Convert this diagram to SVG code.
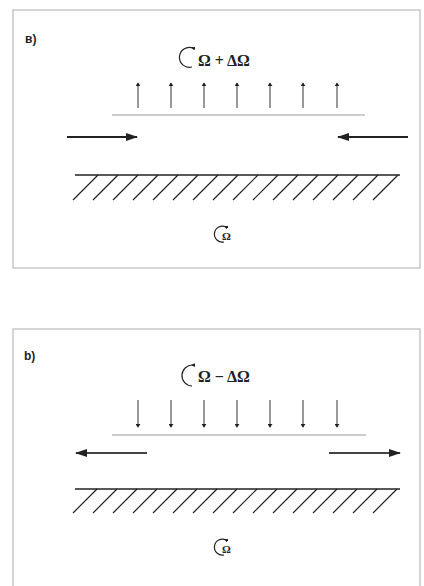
<svg xmlns="http://www.w3.org/2000/svg" width="424" height="586" viewBox="0 0 424 586">
<style>
.frame{fill:none;stroke:#c8c8c8;stroke-width:1.5}
.lbl{font-family:"Liberation Sans",Arial,sans-serif;font-weight:bold;font-size:12px;fill:#222}
.om{font-family:"Liberation Serif","Times New Roman",serif;font-weight:bold;font-size:16px;fill:#222}
.oms{font-family:"Liberation Serif","Times New Roman",serif;font-weight:bold;font-size:11px;fill:#222}
.thin{stroke:#333;stroke-width:1;fill:none}
.base{stroke:#999;stroke-width:1;fill:none}
.ground{stroke:#222;stroke-width:1.5;fill:none}
.hatch{stroke:#222;stroke-width:1.2;fill:none}
.big{stroke:#222;stroke-width:2;fill:none}
.arc{stroke:#222;stroke-width:1.2;fill:none}
</style>
<defs>
<marker id="sm" viewBox="0 0 6 8" refX="5" refY="4" markerWidth="4" markerHeight="5" orient="auto" markerUnits="userSpaceOnUse"><path d="M0,0 L6,4 L0,8 z" fill="#222"/></marker>
<marker id="lg" viewBox="0 0 12 8" refX="11" refY="4" markerWidth="14" markerHeight="8" orient="auto" markerUnits="userSpaceOnUse"><path d="M0,0 L12,4 L0,8 z" fill="#222"/></marker>
<marker id="tiny" viewBox="0 0 6 6" refX="3" refY="3" markerWidth="4" markerHeight="4" orient="auto" markerUnits="userSpaceOnUse"><path d="M0,0 L6,3 L0,6 z" fill="#222"/></marker>
</defs>

<g id="panel-a">
<rect class="frame" x="13" y="10" width="407" height="258"/>
<text class="lbl" x="25" y="43">в)</text>
<g id="rot-a-top">
<path class="arc" d="M193,48 A10,10 0 1,0 192,67" marker-start="url(#tiny)"/>
<text class="om" x="198" y="66">Ω + ΔΩ</text>
</g>
<g id="lift-a">
<line class="thin" x1="138" y1="108" x2="138" y2="83" marker-end="url(#sm)"/>
<line class="thin" x1="171" y1="108" x2="171" y2="83" marker-end="url(#sm)"/>
<line class="thin" x1="204" y1="108" x2="204" y2="83" marker-end="url(#sm)"/>
<line class="thin" x1="237" y1="108" x2="237" y2="83" marker-end="url(#sm)"/>
<line class="thin" x1="270" y1="108" x2="270" y2="83" marker-end="url(#sm)"/>
<line class="thin" x1="303" y1="108" x2="303" y2="83" marker-end="url(#sm)"/>
<line class="thin" x1="337" y1="108" x2="337" y2="83" marker-end="url(#sm)"/>
</g>
<line class="base" x1="112" y1="115" x2="365" y2="115"/>
<g id="flow-a">
<line class="big" x1="67" y1="137" x2="137" y2="137" marker-end="url(#lg)"/>
<line class="big" x1="408" y1="137" x2="338" y2="137" marker-end="url(#lg)"/>
</g>
<g id="ground-a">
<line class="ground" x1="75" y1="175" x2="400" y2="175"/>
<path class="hatch" d="M73,200 l25,-25 M93,200 l25,-25 M113,200 l25,-25 M133,200 l25,-25 M153,200 l25,-25 M173,200 l25,-25 M193,200 l25,-25 M213,200 l25,-25 M233,200 l25,-25 M253,200 l25,-25 M273,200 l25,-25 M293,200 l25,-25 M313,200 l25,-25 M333,200 l25,-25 M353,200 l25,-25 M373,200 l25,-25"/>
</g>
<g id="rot-a-bottom">
<path class="arc" d="M226,227 A8,8 0 1,0 224,242" marker-start="url(#tiny)"/>
<text class="oms" x="222" y="240">Ω</text>
</g>
</g>

<g id="panel-b">
<path class="frame" d="M13,586 L13,329 L420,329 L420,586"/>
<text class="lbl" x="24" y="360">b)</text>
<g id="rot-b-top">
<path class="arc" d="M193,365 A10,10 0 1,0 192,386" marker-start="url(#tiny)"/>
<text class="om" x="198" y="382">Ω − ΔΩ</text>
</g>
<g id="lift-b">
<line class="thin" x1="138" y1="400" x2="138" y2="427" marker-end="url(#sm)"/>
<line class="thin" x1="171" y1="400" x2="171" y2="427" marker-end="url(#sm)"/>
<line class="thin" x1="204" y1="400" x2="204" y2="427" marker-end="url(#sm)"/>
<line class="thin" x1="237" y1="400" x2="237" y2="427" marker-end="url(#sm)"/>
<line class="thin" x1="270" y1="400" x2="270" y2="427" marker-end="url(#sm)"/>
<line class="thin" x1="303" y1="400" x2="303" y2="427" marker-end="url(#sm)"/>
<line class="thin" x1="337" y1="400" x2="337" y2="427" marker-end="url(#sm)"/>
</g>
<line class="base" x1="112" y1="435" x2="366" y2="435"/>
<g id="flow-b">
<line class="big" x1="147" y1="453" x2="76" y2="453" marker-end="url(#lg)" style="stroke:#444"/>
<line class="big" x1="329" y1="453" x2="400" y2="453" marker-end="url(#lg)" style="stroke:#444"/>
</g>
<g id="ground-b">
<line class="ground" x1="75" y1="489" x2="400" y2="489"/>
<path class="hatch" d="M73,513 l24,-24 M93,513 l24,-24 M113,513 l24,-24 M133,513 l24,-24 M153,513 l24,-24 M173,513 l24,-24 M193,513 l24,-24 M213,513 l24,-24 M233,513 l24,-24 M253,513 l24,-24 M273,513 l24,-24 M293,513 l24,-24 M313,513 l24,-24 M333,513 l24,-24 M353,513 l24,-24 M373,513 l24,-24"/>
</g>
<g id="rot-b-bottom">
<path class="arc" d="M226,540 A8,8 0 1,0 224,555" marker-start="url(#tiny)"/>
<text class="oms" x="222" y="553">Ω</text>
</g>
</g>
</svg>
